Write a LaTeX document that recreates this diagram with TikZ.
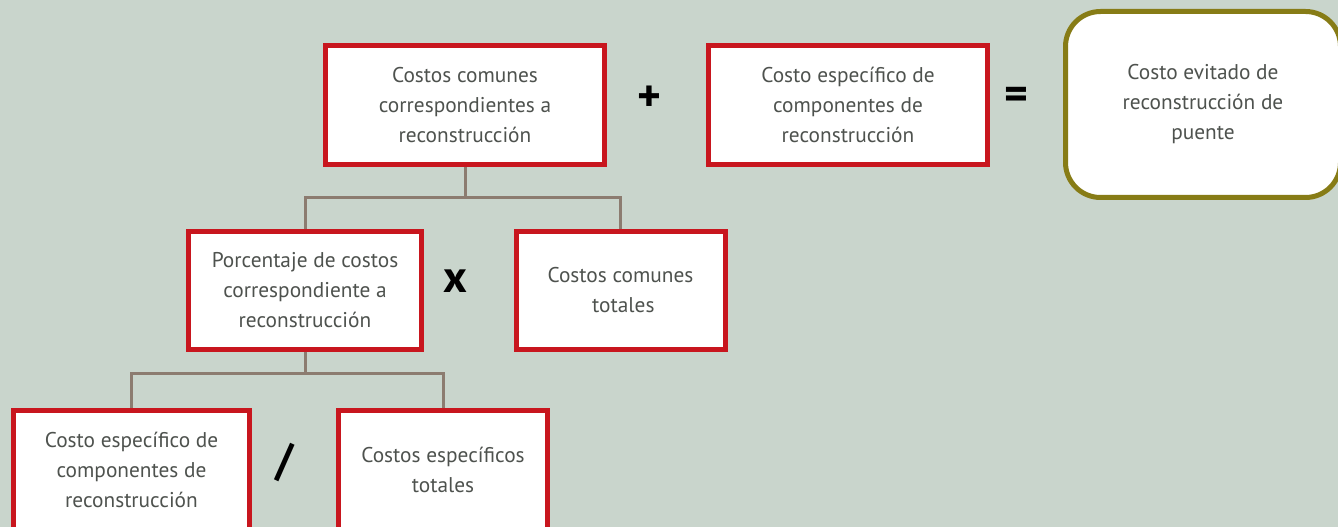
\documentclass[tikz,border=0pt]{standalone}
\usepackage{fontspec}
\setmainfont{PT Sans}
\definecolor{bgsage}{RGB}{201,213,204}
\definecolor{boxred}{RGB}{200,22,30}
\definecolor{olive}{RGB}{135,124,22}
\definecolor{linkbrown}{RGB}{140,124,112}
\definecolor{txtgray}{RGB}{78,82,78}
\tikzset{>=stealth}

\begin{document}
\begin{tikzpicture}[x=0.75pt,y=-0.75pt,
    costbox/.style={draw=boxred, line width=3.75pt, fill=white, align=center,
      text=txtgray, font=\fontsize{16}{22.5}\selectfont, inner sep=0pt},
    resultbox/.style={costbox, draw=olive, rounded corners=26.25pt},
    oper/.style={font=\fontsize{34}{34}\selectfont\bfseries, text=black, inner sep=0pt},
    link/.style={draw=linkbrown, line width=2.25pt}]
\useasboundingbox[fill=bgsage] (0,0) rectangle (1338,527);
\node[costbox, minimum width=209.25pt, minimum height=89.25pt] (comunes) at (465,105)
  {Costos comunes\\correspondientes a\\reconstrucción};
\node[costbox, minimum width=209.25pt, minimum height=89.25pt] (especifico) at (848,105)
  {Costo específico de\\componentes de\\reconstrucción};
\node[resultbox, minimum width=206.25pt, minimum height=139.5pt] (evitado) at (1203,104.5)
  {Costo evitado de\ \\reconstrucción de\\puente};
\node[oper] (mas) at (649.5,98.5) {+};
\node[oper] (igual) at (1016.5,98.5) {=};
% segundo nivel
\node[costbox, minimum width=174.75pt, minimum height=87.75pt] (porcentaje) at (305,290.5)
  {Porcentaje de costos\\correspondiente a\\reconstrucción};
\node[costbox, minimum width=156.75pt, minimum height=87.75pt] (comtotal) at (620.5,290.5)
  {Costos comunes\\\ totales};
\node[oper] (por) at (455.5,281) {x};
% tercer nivel
\node[costbox, minimum width=177pt, minimum height=89.25pt] (espcomp) at (131.5,470)
  {Costo específico de\\componentes de\\reconstrucción};
\node[costbox, minimum width=156.75pt, minimum height=89.25pt] (esptotal) at (443,470)
  {Costos específicos\\totales};
\node[oper] (entre) at (285,462.5) {/};
% conectores
\draw[link] (comunes.south) -- ++(0,31) coordinate (j1);
\draw[link] (porcentaje.north) |- (j1) -| (comtotal.north);
\draw[link] (porcentaje.south) -- ++(0,22) coordinate (j2);
\draw[link] (espcomp.north) |- (j2) -| (esptotal.north);
\end{tikzpicture}
\end{document}
